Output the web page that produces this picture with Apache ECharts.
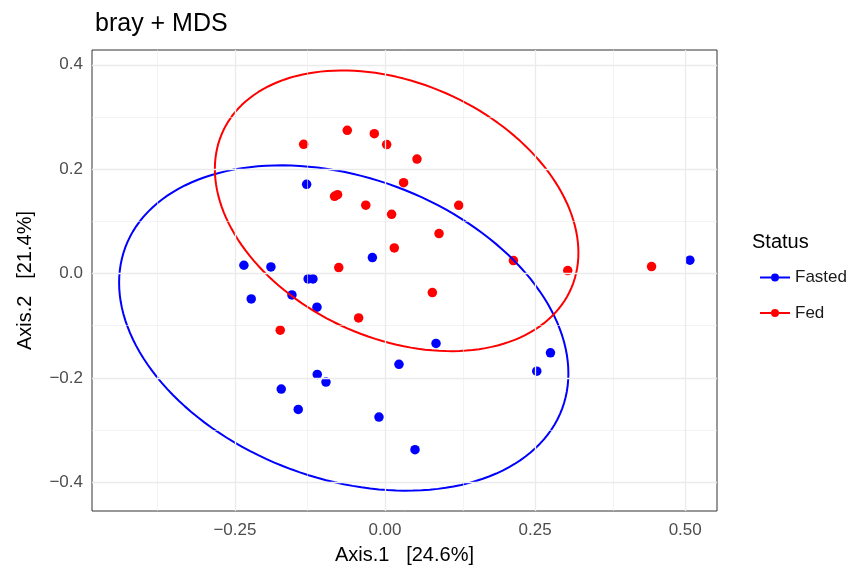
<!DOCTYPE html>
<html>
<head>
<meta charset="utf-8">
<script src="https://cdn.jsdelivr.net/npm/echarts@6/dist/echarts.min.js"></script>
<style>html,body{margin:0;padding:0;background:#fff}#c{width:847px;height:570px}</style>
</head>
<body>
<div id="c"></div>
<script>
// ---- data ----
const fastedX = [-0.1305,-0.021,-0.235,-0.19,-0.128,-0.12,-0.2228,-0.155,-0.1133,0.0233,-0.1128,-0.0983,-0.1728,-0.1445,-0.01,0.085,0.2756,0.2528,0.05,0.5078];
const fastedY = [0.171,0.0306,0.0159,0.0127,-0.0103,-0.0103,-0.0486,-0.041,-0.0645,-0.174,-0.1933,-0.208,-0.2214,-0.2603,-0.275,-0.134,-0.152,-0.187,-0.3376,0.0255];
const fedX = [-0.1355,-0.0628,-0.0178,0.0028,0.031,-0.084,-0.079,-0.032,0.011,0.0155,-0.077,0.0533,0.1228,0.09,0.2139,0.3044,0.444,-0.1745,-0.0439,0.0789];
const fedY = [0.2475,0.2743,0.268,0.247,0.174,0.148,0.151,0.131,0.1135,0.049,0.0115,0.2194,0.1307,0.0765,0.0249,0.0057,0.0134,-0.1085,-0.085,-0.0364];
const xTicks = [-0.25, 0, 0.25, 0.5];
const yTicks = [-0.4, -0.2, 0, 0.2, 0.4];
const xMinor = [-0.375, -0.125, 0.125, 0.375];
const yMinor = [-0.3, -0.1, 0.1, 0.3];
// ellipse (center, covariance)
const fastedEllipse = {cx: -0.0687, cy: -0.1044, sxx: 0.14, syy: 0.09714, sxy: -0.03254};
const fedEllipse = {cx: 0.0194, cy: 0.1202, sxx: 0.09166, syy: 0.07231, sxy: -0.02429};

function ellipsePts(e) {
  const l11 = Math.sqrt(e.sxx), l21 = e.sxy / l11, l22 = Math.sqrt(e.syy - l21 * l21);
  const pts = [];
  for (let i = 0; i <= 160; i++) {
    const t = 2 * Math.PI * i / 160;
    pts.push([e.cx + l11 * Math.cos(t), e.cy + l21 * Math.cos(t) + l22 * Math.sin(t)]);
  }
  return pts;
}
const zip = (a, b) => a.map((v, i) => [v, b[i]]);
const fmt = d => v => (v < 0 ? '\u2212' : '') + Math.abs(v).toFixed(d);

const FONT = '"Liberation Sans", Arial, sans-serif';
const grid = '#EBEBEB';
const legendIcon = 'path://M0,4.1 L11,4.1 L11,5.9 L0,5.9 Z M19,4.1 L30,4.1 L30,5.9 L19,5.9 Z M19,5 A4,4 0 1,1 11,5 A4,4 0 1,1 19,5 Z';

const chart = echarts.init(document.getElementById('c'), null, {renderer: 'canvas'});
chart.setOption({
  animation: false,
  backgroundColor: '#fff',
  textStyle: {fontFamily: FONT},
  title: {text: 'bray + MDS', left: 90, top: 7, textStyle: {fontFamily: FONT, fontSize: 25, fontWeight: 'normal', color: '#000'}},
  grid: {left: 92, right: 130, top: 50, bottom: 59, show: true, borderColor: '#333333', borderWidth: 1, backgroundColor: '#fff'},
  xAxis: {
    type: 'value', min: -0.488, max: 0.553,
    name: 'Axis.1   [24.6%]', nameLocation: 'middle', nameGap: 34,
    nameTextStyle: {fontFamily: FONT, fontSize: 20, color: '#000'},
    axisLine: {show: false},
    axisTick: {show: true, length: 5, lineStyle: {color: '#333333', width: 1}, customValues: xTicks},
    axisLabel: {customValues: xTicks, formatter: fmt(2), fontSize: 17, color: '#4D4D4D', margin: 11, fontFamily: FONT},
    splitLine: {show: false}
  },
  yAxis: {
    type: 'value', min: -0.455, max: 0.4283,
    name: 'Axis.2   [21.4%]', nameLocation: 'middle', nameGap: 57, nameRotate: 90,
    nameTextStyle: {fontFamily: FONT, fontSize: 20, color: '#000'},
    axisLine: {show: false},
    axisTick: {show: true, length: 5, lineStyle: {color: '#333333', width: 1}, customValues: yTicks},
    axisLabel: {customValues: yTicks, formatter: fmt(1), fontSize: 17, color: '#4D4D4D', margin: 9, fontFamily: FONT},
    splitLine: {show: false}
  },
  legend: {
    orient: 'vertical', left: 755, top: 264, itemWidth: 30, itemHeight: 10, itemGap: 18.5,
    data: [{name: 'Fasted', icon: legendIcon}, {name: 'Fed', icon: legendIcon}],
    textStyle: {fontFamily: FONT, fontSize: 17, color: '#1A1A1A'}
  },
  graphic: [{type: 'text', left: 752, top: 232, style: {text: 'Status', font: '20px ' + FONT, fill: '#000'}}],
  series: [
    {type: 'line', name: 'grid', data: [], z: 1, silent: true,
      markLine: {silent: true, symbol: 'none', label: {show: false}, animation: false,
        data: [
          ...xMinor.map(v => ({xAxis: v, lineStyle: {color: grid, width: 0.6, type: 'solid'}})),
          ...yMinor.map(v => ({yAxis: v, lineStyle: {color: grid, width: 0.6, type: 'solid'}})),
          ...xTicks.map(v => ({xAxis: v, lineStyle: {color: grid, width: 1.3, type: 'solid'}})),
          ...yTicks.map(v => ({yAxis: v, lineStyle: {color: grid, width: 1.3, type: 'solid'}}))
        ]}},
    {type: 'scatter', name: 'Fasted', data: zip(fastedX, fastedY), symbolSize: 9.5, itemStyle: {color: '#0000FF', opacity: 1}, z: 3},
    {type: 'scatter', name: 'Fed', data: zip(fedX, fedY), symbolSize: 9.5, itemStyle: {color: '#FF0000', opacity: 1}, z: 3},
    {type: 'line', name: 'Fasted ellipse', data: ellipsePts(fastedEllipse), showSymbol: false, symbol: 'none', lineStyle: {color: '#0000FF', width: 2}, z: 4, silent: true},
    {type: 'line', name: 'Fed ellipse', data: ellipsePts(fedEllipse), showSymbol: false, symbol: 'none', lineStyle: {color: '#FF0000', width: 2}, z: 4, silent: true}
  ]
});
</script>
</body>
</html>
